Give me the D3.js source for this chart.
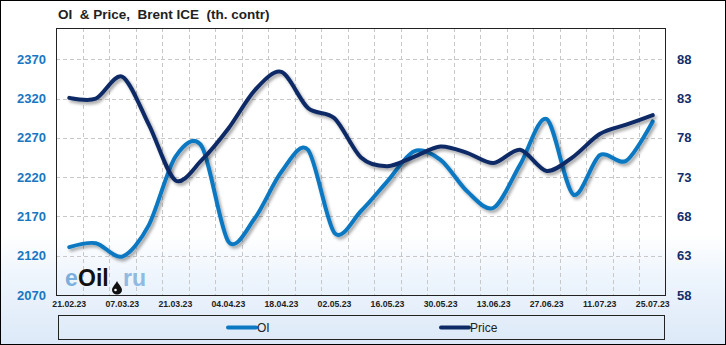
<!DOCTYPE html>
<html>
<head>
<meta charset="utf-8">
<script src="https://cdn.jsdelivr.net/npm/d3@7"></script>
<style>
  body { margin: 0; padding: 0; background: #fff; }
  svg { display: block; font-family: "Liberation Sans", Arial, sans-serif; }
</style>
</head>
<body>
<script>
// weekly dates, OI (left axis) and Brent price (right axis)
var dates = ["21.02.23","28.02.23","07.03.23","14.03.23","21.03.23","28.03.23","04.04.23","11.04.23",
             "18.04.23","25.04.23","02.05.23","09.05.23","16.05.23","23.05.23","30.05.23","06.06.23",
             "13.06.23","20.06.23","27.06.23","04.07.23","11.07.23","18.07.23","25.07.23"];
var oi = [2131, 2136, 2119, 2159, 2246, 2259, 2138, 2168, 2227, 2255, 2149, 2177,
          2215, 2253, 2242, 2202, 2181, 2236, 2294, 2198, 2248, 2241, 2291];
var price = [83.1, 83.0, 85.8, 79.7, 72.6, 75.2, 79.2, 84.1, 86.4, 81.8, 80.5, 75.5,
             74.4, 75.6, 76.9, 76.1, 74.8, 76.5, 73.8, 75.6, 78.5, 79.7, 80.9];
var leftTicks = [2070, 2120, 2170, 2220, 2270, 2320, 2370];
var rightTicks = [58, 63, 68, 73, 78, 83, 88];

var width = 726,
    height = 345,
    plot = {left: 56, right: 666, top: 28, bottom: 295};

var svg = d3.select("body").append("svg")
    .attr("width", width)
    .attr("height", height);

var defs = svg.append("defs");
var grad = defs.append("linearGradient")
    .attr("id", "bg").attr("x1", 0).attr("y1", 0).attr("x2", 0).attr("y2", 1);
grad.append("stop").attr("offset", "0%").attr("stop-color", "#ffffff");
grad.append("stop").attr("offset", "68%").attr("stop-color", "#ffffff");
grad.append("stop").attr("offset", "80%").attr("stop-color", "#eef5fd");
grad.append("stop").attr("offset", "100%").attr("stop-color", "#dde9f8");

var shadow = defs.append("filter").attr("id", "shadow")
    .attr("x", "-5%").attr("y", "-10%").attr("width", "110%").attr("height", "130%");
shadow.append("feDropShadow")
    .attr("dx", 2).attr("dy", 2.5).attr("stdDeviation", 1.4)
    .attr("flood-color", "#000").attr("flood-opacity", 0.35);

svg.append("rect")
    .attr("x", 0.5).attr("y", 0.5)
    .attr("width", width - 1).attr("height", height - 1)
    .attr("fill", "url(#bg)")
    .attr("stroke", "#000");

// scales
var x = d3.scaleBand()
    .domain(dates)
    .range([plot.left, plot.right]);

var yL = d3.scaleLinear()
    .domain([2070, 2410])
    .range([plot.bottom, plot.top]);

var yR = d3.scaleLinear()
    .domain([58, 92])
    .range([plot.bottom, plot.top]);

function cx(d) { return x(d) + x.bandwidth() / 2; }

// grid
var grid = svg.append("g")
    .attr("stroke", "#c8c8c8")
    .attr("stroke-dasharray", "4,3")
    .attr("stroke-width", 1);

grid.selectAll(".vg")
    .data(dates.slice(1))
    .enter()
    .append("line")
    .attr("x1", function(d) { return Math.round(x(d)) + 0.5; })
    .attr("x2", function(d) { return Math.round(x(d)) + 0.5; })
    .attr("y1", plot.top)
    .attr("y2", plot.bottom);

grid.selectAll(".hg")
    .data(leftTicks.slice(1))
    .enter()
    .append("line")
    .attr("x1", plot.left)
    .attr("x2", plot.right)
    .attr("y1", function(d) { return Math.round(yL(d)) + 0.5; })
    .attr("y2", function(d) { return Math.round(yL(d)) + 0.5; });

// watermark
var wm = svg.append("g").attr("font-size", 23).attr("font-weight", "bold");
wm.append("text").attr("x", 65).attr("y", 286).attr("fill", "#7aaedb").text("e");
wm.append("text").attr("x", 78).attr("y", 286).attr("fill", "#111").text("Oil");
wm.append("text").attr("x", 123).attr("y", 286).attr("fill", "#8dbbe3").text("ru");
wm.append("path")
    .attr("d", "M117,281 C115,285 112,287 112,290 A5,4.5 0 0 0 122,290 C122,287 119,285 117,281 Z")
    .attr("fill", "#111");
wm.append("circle").attr("cx", 115.5).attr("cy", 290).attr("r", 1.3).attr("fill", "#fff");

// plot frame
svg.append("rect")
    .attr("x", plot.left + 0.5)
    .attr("y", plot.top + 0.5)
    .attr("width", plot.right - plot.left - 1)
    .attr("height", plot.bottom - plot.top)
    .attr("fill", "none")
    .attr("stroke", "#222");

// left axis
svg.append("g")
    .selectAll("text")
    .data(leftTicks)
    .enter()
    .append("text")
    .attr("x", 46)
    .attr("y", function(d) { return yL(d) + 4.5; })
    .attr("text-anchor", "end")
    .attr("font-size", 13)
    .attr("font-weight", "bold")
    .attr("fill", "#1877c2")
    .text(function(d) { return d; });

// right axis
svg.append("g")
    .selectAll("text")
    .data(rightTicks)
    .enter()
    .append("text")
    .attr("x", 677)
    .attr("y", function(d) { return yR(d) + 4.5; })
    .attr("font-size", 13)
    .attr("font-weight", "bold")
    .attr("fill", "#142d6a")
    .text(function(d) { return d; });

// x labels every second week
svg.append("g")
    .selectAll("text")
    .data(dates.filter(function(d, i) { return i % 2 === 0; }))
    .enter()
    .append("text")
    .attr("x", function(d) { return cx(d); })
    .attr("y", 307)
    .attr("text-anchor", "middle")
    .attr("font-size", 8.7)
    .attr("font-weight", "bold")
    .attr("fill", "#222")
    .text(function(d) { return d; });

// lines
var oiLine = d3.line()
    .x(function(d, i) { return cx(dates[i]); })
    .y(function(d) { return yL(d); })
    .curve(d3.curveCardinal.tension(0.1));

var priceLine = d3.line()
    .x(function(d, i) { return cx(dates[i]); })
    .y(function(d) { return yR(d); })
    .curve(d3.curveCardinal.tension(0.1));

svg.append("path")
    .datum(oi)
    .attr("d", oiLine)
    .attr("fill", "none")
    .attr("stroke", "#0a78c2")
    .attr("stroke-width", 4)
    .attr("stroke-linecap", "round")
    .attr("filter", "url(#shadow)");

svg.append("path")
    .datum(price)
    .attr("d", priceLine)
    .attr("fill", "none")
    .attr("stroke", "#0d2a66")
    .attr("stroke-width", 4)
    .attr("stroke-linecap", "round")
    .attr("filter", "url(#shadow)");

// title
svg.append("text")
    .attr("x", 58)
    .attr("y", 19)
    .attr("font-size", 13.5)
    .attr("font-weight", "bold")
    .attr("fill", "#222")
    .attr("xml:space", "preserve")
    .style("white-space", "pre")
    .text("OI  & Price,  Brent ICE  (th. contr)");

// legend
svg.append("rect")
    .attr("x", 58.5)
    .attr("y", 315.5)
    .attr("width", 606)
    .attr("height", 24)
    .attr("fill", "none")
    .attr("stroke", "#222");

var legend = [
    {name: "OI", color: "#0a78c2", x: 228},
    {name: "Price", color: "#0d2a66", x: 441}
];

legend.forEach(function(d) {
    svg.append("line")
        .attr("x1", d.x).attr("x2", d.x + 28)
        .attr("y1", 327.5).attr("y2", 327.5)
        .attr("stroke", d.color)
        .attr("stroke-width", 4)
        .attr("stroke-linecap", "round");
    svg.append("text")
        .attr("x", d.x + 29)
        .attr("y", 332)
        .attr("font-size", 12)
        .attr("fill", "#222")
        .text(d.name);
});
</script>
</body>
</html>
